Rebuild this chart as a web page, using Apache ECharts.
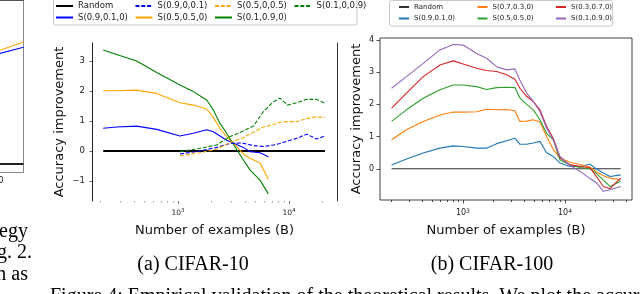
<!DOCTYPE html>
<html><head><meta charset="utf-8">
<script src="https://cdn.jsdelivr.net/npm/echarts@6/dist/echarts.min.js"></script>
<style>html,body{margin:0;padding:0;background:#fff}#c{width:640px;height:294px}</style>
</head><body><div id="c"></div><script>
// ---------- data: (a) CIFAR-10 ----------
const xMinA = 168, xMaxA = 27060;
const c10RandomX = [212, 21090];
const c10RandomY = [0, 0];
const c10SolidX = [212, 280, 424, 643, 1042, 1375, 1813, 2081, 2389, 2743, 3262, 3879, 4454, 5480, 6514];
const c10_S_09_01_0 = [0.76, 0.80, 0.83, 0.72, 0.50, 0.59, 0.71, 0.64, 0.50, 0.36, 0.24, 0.12, -0.02, -0.06, -0.19];
const c10_S_05_05_0 = [2.01, 2.01, 2.03, 1.92, 1.61, 1.53, 1.40, 1.12, 0.75, 0.48, 0.20, -0.10, -0.24, -0.40, -0.94];
const c10_S_01_09_0 = [3.37, 3.22, 3.00, 2.62, 2.20, 1.98, 1.70, 1.37, 0.92, 0.59, 0.14, -0.30, -0.63, -0.97, -1.43];
const c10DashX = [1042, 1579, 2230, 2940, 3747, 4773, 5873, 7226, 8297, 9660, 11720, 14420, 17740, 21090];
const c10_S_09_0_01 = [-0.10, 0.00, 0.12, 0.25, 0.27, 0.18, 0.15, 0.20, 0.25, 0.33, 0.42, 0.56, 0.40, 0.50];
const c10_S_05_0_05 = [-0.16, -0.06, 0.06, 0.28, 0.42, 0.62, 0.80, 0.88, 0.96, 0.98, 0.98, 1.08, 1.14, 1.11];
const c10_S_01_0_09 = [-0.02, 0.09, 0.20, 0.48, 0.64, 0.83, 1.31, 1.64, 1.76, 1.53, 1.61, 1.72, 1.72, 1.59];
const yTicksA = [-1, 0, 1, 2, 3];

// ---------- data: (b) CIFAR-100 ----------
const xMinB = 154, xMaxB = 45400;
const c100RandomX = [200, 35150];
const c100RandomY = [0, 0];
const c100X = [200, 280, 408, 595, 804, 1008, 1361, 1706, 2139, 2680, 3236, 3622, 4210, 4893, 5686, 6610, 7686, 8933, 11200, 14030, 17590, 20440, 23770, 27620, 35150];
const c100_S_09_01_0 = [0.12, 0.30, 0.49, 0.64, 0.71, 0.69, 0.64, 0.64, 0.78, 0.87, 0.95, 0.76, 0.76, 0.80, 0.85, 0.50, 0.38, 0.18, 0.07, 0.07, 0.14, -0.01, -0.13, -0.24, -0.19];
const c100_S_07_03_0 = [0.90, 1.21, 1.47, 1.67, 1.76, 1.76, 1.77, 1.85, 1.83, 1.84, 1.80, 1.47, 1.48, 1.52, 1.45, 1.00, 0.60, 0.33, 0.20, 0.13, 0.05, -0.10, -0.22, -0.29, -0.34];
const c100_S_05_05_0 = [1.47, 1.83, 2.19, 2.45, 2.60, 2.60, 2.55, 2.46, 2.52, 2.53, 2.52, 2.20, 2.00, 1.83, 1.52, 1.10, 0.90, 0.28, 0.12, 0.04, 0.00, -0.15, -0.35, -0.55, -0.39];
const c100_S_03_07_0 = [1.88, 2.35, 2.86, 3.22, 3.35, 3.25, 3.12, 3.05, 3.02, 2.92, 2.78, 2.50, 2.25, 2.09, 1.83, 1.31, 0.95, 0.35, 0.12, 0.08, 0.03, -0.25, -0.55, -0.62, -0.29];
const c100_S_01_09_0 = [2.50, 2.86, 3.27, 3.69, 3.86, 3.84, 3.58, 3.43, 3.17, 3.07, 3.10, 2.75, 2.35, 2.09, 1.78, 1.26, 0.90, 0.38, 0.10, -0.08, -0.30, -0.44, -0.70, -0.65, -0.55];
const yTicksB = [0, 1, 2, 3, 4];

// ---------- shared tick values ----------
const xMajorTicks = [1000, 10000];
const xMinorTicksA = [200, 300, 400, 500, 600, 700, 800, 900, 2000, 3000, 4000, 5000, 6000, 7000, 8000, 9000, 20000];
const xMinorTicksB = [200, 300, 400, 500, 600, 700, 800, 900, 2000, 3000, 4000, 5000, 6000, 7000, 8000, 9000, 20000, 30000, 40000];

// ---------- left neighbouring panel (cropped) ----------
const leftX = [60, 100];
const leftOrange = [0.674, 0.758];
const leftBlue = [0.666, 0.727];
const leftBlack = [0.047, 0.047];

const SANS = 'DejaVu Sans';
const SERIF = 'Liberation Serif';
const pairs = (xs, ys) => xs.map((x, i) => [x, ys[i]]);
const isPow10 = v => v > 0 && Math.abs(Math.log10(v) - Math.round(Math.log10(v))) < 1e-6;
const powLabel = v => isPow10(v) ? '10{s|' + Math.round(Math.log10(v)) + '}' : '';
const numLabel = v => v < 0 ? '\u2212' + Math.abs(v) : String(v);
const stripName = n => n.replace(/^[abc]:/, '');

function mkLine(name, xs, ys, color, width, dashed, xi, yi, z) {
  return {
    type: 'line', name, xAxisIndex: xi, yAxisIndex: yi, data: pairs(xs, ys),
    showSymbol: false, symbol: 'none', z: z || 2, silent: true,
    lineStyle: { color, width, type: dashed ? [4, 1.8] : 'solid' },
    itemStyle: { color }, emphasis: { disabled: true }
  };
}

function tickAxis(grid, lo, hi, vals, len, color) {
  return {
    type: 'value', gridIndex: grid, position: 'bottom', min: Math.log10(lo), max: Math.log10(hi),
    axisLine: { show: false, onZero: false }, axisLabel: { show: false }, splitLine: { show: false },
    axisTick: { show: true, length: len, customValues: vals.map(v => Math.log10(v)), lineStyle: { color, width: 0.8 } },
    silent: true
  };
}

const chart = echarts.init(document.getElementById('c'), null, { renderer: 'canvas' });
const option = {
  animation: false,
  backgroundColor: '#fff',
  grid: [
    { left: 92, right: 303, top: 43, bottom: 93 },
    { left: 380, right: 8, top: 38, bottom: 94, show: true, borderColor: '#111', borderWidth: 0.8 },
    { left: 0, width: 23.5, top: 0.5, height: 171.5 }
  ],
  xAxis: [
    { type: 'log', logBase: 10, gridIndex: 0, min: xMinA, max: xMaxA, position: 'bottom',
      axisLine: { show: false, onZero: false }, axisTick: { show: false }, splitLine: { show: false },
      axisLabel: { formatter: powLabel, fontSize: 7.5, fontFamily: SANS, color: '#222', margin: 7, lineHeight: 10,
        rich: { s: { fontSize: 5.5, fontFamily: SANS, color: '#222', verticalAlign: 'top', lineHeight: 6 } } },
      name: 'Number of examples (B)', nameLocation: 'middle', nameGap: 20.5,
      nameTextStyle: { fontSize: 13, fontFamily: SANS, color: '#111', lineHeight: 15 } },
    tickAxis(0, xMinA, xMaxA, xMinorTicksA, 1.5, '#888'),
    tickAxis(0, xMinA, xMaxA, xMajorTicks, 3, '#555'),
    { type: 'log', logBase: 10, gridIndex: 1, min: xMinB, max: xMaxB, position: 'bottom',
      axisLine: { show: false, onZero: false }, axisTick: { show: false }, splitLine: { show: false },
      axisLabel: { formatter: powLabel, fontSize: 8, fontFamily: SANS, color: '#222', margin: 8, lineHeight: 10,
        rich: { s: { fontSize: 6, fontFamily: SANS, color: '#222', verticalAlign: 'top', lineHeight: 6 } } },
      name: 'Number of examples (B)', nameLocation: 'middle', nameGap: 21.5,
      nameTextStyle: { fontSize: 13, fontFamily: SANS, color: '#111', lineHeight: 15 } },
    tickAxis(1, xMinB, xMaxB, xMinorTicksB, 2, '#222'),
    tickAxis(1, xMinB, xMaxB, xMajorTicks, 3.5, '#222'),
    { type: 'value', gridIndex: 2, min: 77, max: 100, position: 'bottom',
      axisLine: { show: true, onZero: false, lineStyle: { color: '#888', width: 1 } },
      axisTick: { show: false }, axisLabel: { show: false }, splitLine: { show: false } },
    { type: 'value', gridIndex: 2, min: 77, max: 100, position: 'top',
      axisLine: { show: true, onZero: false, lineStyle: { color: '#555', width: 1 } },
      axisTick: { show: false }, axisLabel: { show: false }, splitLine: { show: false } }
  ],
  yAxis: [
    { type: 'value', gridIndex: 0, min: -1.667, max: 3.6, position: 'left',
      axisLine: { show: true, onZero: false, lineStyle: { color: '#222', width: 1 } },
      axisTick: { show: true, length: 2.5, customValues: yTicksA, lineStyle: { color: '#444', width: 0.8 } },
      axisLabel: { customValues: yTicksA, formatter: numLabel, fontSize: 8.5, fontFamily: SANS, color: '#222', margin: 7 },
      splitLine: { show: false },
      name: 'Accuracy improvement', nameLocation: 'middle', nameGap: 24.5,
      nameTextStyle: { fontSize: 13, fontFamily: SANS, color: '#111', lineHeight: 15 } },
    { type: 'value', gridIndex: 0, min: 0, max: 1, position: 'right',
      axisLine: { show: true, onZero: false, lineStyle: { color: '#333', width: 1 } },
      axisTick: { show: false }, axisLabel: { show: false }, splitLine: { show: false } },
    { type: 'value', gridIndex: 1, min: -0.97, max: 4.06, position: 'left',
      axisLine: { show: false, onZero: false },
      axisTick: { show: true, length: 3.5, customValues: yTicksB, lineStyle: { color: '#222', width: 0.8 } },
      axisLabel: { customValues: yTicksB, formatter: numLabel, fontSize: 8, fontFamily: SANS, color: '#222', margin: 6 },
      splitLine: { show: false },
      name: 'Accuracy improvement', nameLocation: 'middle', nameGap: 15.5,
      nameTextStyle: { fontSize: 13, fontFamily: SANS, color: '#111', lineHeight: 15 } },
    { type: 'value', gridIndex: 2, min: 0, max: 1, position: 'right',
      axisLine: { show: true, onZero: false, lineStyle: { color: '#888', width: 1 } },
      axisTick: { show: false }, axisLabel: { show: false }, splitLine: { show: false } }
  ],
  legend: [
    { orient: 'vertical', left: 55, top: 1, height: 22, itemGap: 1.5, itemWidth: 17, itemHeight: 8, padding: 0,
      selectedMode: false, formatter: stripName, itemStyle: { opacity: 0 },
      textStyle: { fontSize: 8.5, fontFamily: SANS, color: '#222', width: 55, lineHeight: 10 },
      data: ['a:Random', 'a:S(0.9,0.1,0)', 'a:S(0.9,0,0.1)', 'a:S(0.5,0.5,0)', 'a:S(0.5,0,0.5)', 'a:S(0.1,0.9,0)', 'a:S(0.1,0,0.9)'] },
    { orient: 'vertical', left: 398, top: 2.5, height: 22, itemGap: 2.5, itemWidth: 10, itemHeight: 7, padding: 0,
      selectedMode: false, formatter: stripName, itemStyle: { opacity: 0 },
      textStyle: { fontSize: 7, fontFamily: SANS, color: '#222', width: 60, lineHeight: 9 },
      data: ['b:Random', 'b:S(0.9,0.1,0)', 'b:S(0.7,0.3,0)', 'b:S(0.5,0.5,0)', 'b:S(0.3,0.7,0)', 'b:S(0.1,0.9,0)'] }
  ],
  series: [
    mkLine('a:Random', c10RandomX, c10RandomY, '#000', 1.8, false, 0, 0, 1),
    mkLine('a:S(0.9,0.1,0)', c10SolidX, c10_S_09_01_0, '#0000ff', 1.1, false, 0, 0),
    mkLine('a:S(0.5,0.5,0)', c10SolidX, c10_S_05_05_0, '#ffa500', 1.1, false, 0, 0),
    mkLine('a:S(0.1,0.9,0)', c10SolidX, c10_S_01_09_0, '#008000', 1.1, false, 0, 0),
    mkLine('a:S(0.9,0,0.1)', c10DashX, c10_S_09_0_01, '#0000ff', 1.1, true, 0, 0),
    mkLine('a:S(0.5,0,0.5)', c10DashX, c10_S_05_0_05, '#ffa500', 1.1, true, 0, 0),
    mkLine('a:S(0.1,0,0.9)', c10DashX, c10_S_01_0_09, '#008000', 1.1, true, 0, 0),
    mkLine('b:Random', c100RandomX, c100RandomY, '#333', 1, false, 3, 2, 1),
    mkLine('b:S(0.9,0.1,0)', c100X, c100_S_09_01_0, '#1f77b4', 1.1, false, 3, 2),
    mkLine('b:S(0.7,0.3,0)', c100X, c100_S_07_03_0, '#ff7f0e', 1.1, false, 3, 2),
    mkLine('b:S(0.5,0.5,0)', c100X, c100_S_05_05_0, '#2ca02c', 1.1, false, 3, 2),
    mkLine('b:S(0.3,0.7,0)', c100X, c100_S_03_07_0, '#d62728', 1.1, false, 3, 2),
    mkLine('b:S(0.1,0.9,0)', c100X, c100_S_01_09_0, '#9467bd', 1.1, false, 3, 2),
    mkLine('c:black', leftX, leftBlack, '#222', 2, false, 6, 3),
    mkLine('c:orange', leftX, leftOrange, '#ffa500', 1.1, false, 6, 3),
    mkLine('c:blue', leftX, leftBlue, '#0000ff', 1.1, false, 6, 3)
  ],
  graphic: [
    { type: 'rect', z: -1, shape: { x: 53.5, y: -3, width: 303.5, height: 28, r: 2 }, style: { fill: '#fff', stroke: '#c8c8c8', lineWidth: 1 } },
    { type: 'rect', z: -1, shape: { x: 389.5, y: 0.5, width: 223, height: 25.5, r: 2 }, style: { fill: '#fff', stroke: '#c8c8c8', lineWidth: 1 } },
    { type: 'text', style: { text: '(a) CIFAR-10', x: 193, y: 265, font: '20px "' + SERIF + '"', fill: '#000', textAlign: 'center', textVerticalAlign: 'middle' } },
    { type: 'text', style: { text: '(b) CIFAR-100', x: 492, y: 265, font: '20px "' + SERIF + '"', fill: '#000', textAlign: 'center', textVerticalAlign: 'middle' } },
    { type: 'text', style: { text: 'Figure 4: Empirical validation of the theoretical results. We plot the accuracy', x: 50, y: 287, font: '20px "' + SERIF + '"', fill: '#000', textAlign: 'left', textVerticalAlign: 'top' } },
    { type: 'text', style: { text: 'tegy', x: 28, y: 231.5, font: '20px "' + SERIF + '"', fill: '#000', textAlign: 'right', textVerticalAlign: 'middle' } },
    { type: 'text', style: { text: 'g. 2.', x: 32, y: 253.2, font: '20px "' + SERIF + '"', fill: '#000', textAlign: 'right', textVerticalAlign: 'middle' } },
    { type: 'text', style: { text: 'n as', x: 28, y: 275, font: '20px "' + SERIF + '"', fill: '#000', textAlign: 'right', textVerticalAlign: 'middle' } },
    { type: 'text', style: { text: '0', x: 3.5, y: 181, font: '8px "' + SANS + '"', fill: '#222', textAlign: 'right', textVerticalAlign: 'middle' } }
  ]
};
chart.setOption(option);
</script></body></html>
